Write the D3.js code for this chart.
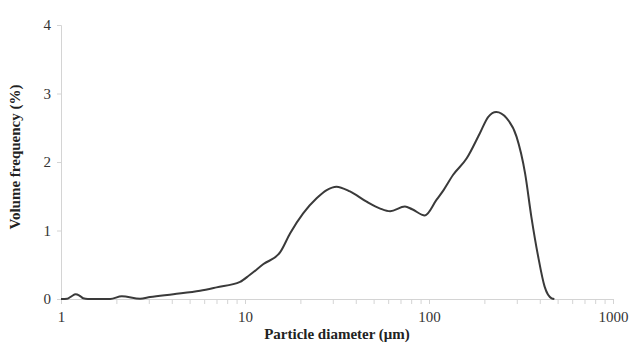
<!DOCTYPE html>
<html>
<head>
<meta charset="utf-8">
<script src="https://cdn.jsdelivr.net/npm/d3@7"></script>
<style>
  body { margin: 0; background: #fff; }
  text { font-family: "Liberation Serif", "DejaVu Serif", serif; fill: #222; }
</style>
</head>
<body>
<div id="chart"></div>
<script>
// particle size distribution
var diameter = [1.0, 1.08, 1.14, 1.2, 1.26, 1.32, 1.4, 1.85, 2.14, 2.69, 3.05, 4.08, 5.7, 7.0, 9.4, 10.6, 12.6, 15.5,
                17.6, 20.7, 24.5, 27.8, 31.4, 37.2, 45.8, 54.3, 61.5, 74, 81, 95, 110, 120, 135, 160, 189,
                210, 232, 264, 299, 333, 360, 392, 425, 464, 480];
var volume = [0, 0.005, 0.04, 0.07, 0.05, 0.01, 0, 0, 0.04, 0.005, 0.03, 0.07, 0.12, 0.17, 0.25, 0.35, 0.51, 0.68,
              0.96, 1.25, 1.47, 1.59, 1.64, 1.57, 1.42, 1.32, 1.28, 1.35, 1.31, 1.22, 1.45, 1.59, 1.81, 2.05, 2.42,
              2.66, 2.73, 2.64, 2.37, 1.83, 1.20, 0.62, 0.18, 0.01, 0];
var xTicks = [1, 10, 100, 1000];
var yTicks = [0, 1, 2, 3, 4];

var data = diameter.map(function(d, i) { return {d: d, v: volume[i]}; });

var margin = {top: 25, right: 23, bottom: 44, left: 61},
    width = 636 - margin.left - margin.right,
    height = 343 - margin.top - margin.bottom;

var svg = d3.select("#chart").append("svg")
    .attr("width", 636)
    .attr("height", 343)
  .append("g")
    .attr("transform", "translate(" + margin.left + "," + margin.top + ")");

var x = d3.scaleLog().domain([1, 1000]).range([0, width]);
var y = d3.scaleLinear().domain([0, 4]).range([height, 0]);

// minor ticks 1..9 per decade
var minor = [];
[1, 10, 100].forEach(function(b) {
  for (var k = 1; k < 10; k++) minor.push(b * k);
});
minor.push(1000);

var xAxis = svg.append("g")
    .attr("transform", "translate(0," + height + ")")
    .call(d3.axisBottom(x).tickValues(minor).tickSize(5).tickFormat(function(d) {
      return xTicks.indexOf(d) >= 0 ? d : "";
    }));
xAxis.selectAll("text").style("font-size", "15px").style("fill", "#333").attr("dy", "1.0em");

var yAxis = svg.append("g")
    .call(d3.axisLeft(y).tickValues(yTicks).tickSize(4).tickFormat(d3.format("d")));
yAxis.selectAll("text").style("font-size", "15px").style("fill", "#333").attr("x", -10);

svg.selectAll(".domain, .tick line").attr("stroke", "#d4d4d4");

// the curve
svg.append("path")
    .datum(data)
    .attr("fill", "none")
    .attr("stroke", "#3a3a3a")
    .attr("stroke-width", 2)
    .attr("d", d3.line()
      .x(function(d) { return x(d.d); })
      .y(function(d) { return y(d.v); })
      .curve(d3.curveMonotoneX));

// axis titles
svg.append("text")
    .attr("x", 276)
    .attr("y", height + 40)
    .attr("text-anchor", "middle")
    .style("font-size", "15px")
    .style("font-weight", "bold")
    .text("Particle diameter (μm)");

svg.append("text")
    .attr("transform", "translate(-41," + (height / 2 - 5) + ") rotate(-90)")
    .attr("text-anchor", "middle")
    .style("font-size", "15px")
    .style("font-weight", "bold")
    .text("Volume frequency (%)");
</script>
</body>
</html>
